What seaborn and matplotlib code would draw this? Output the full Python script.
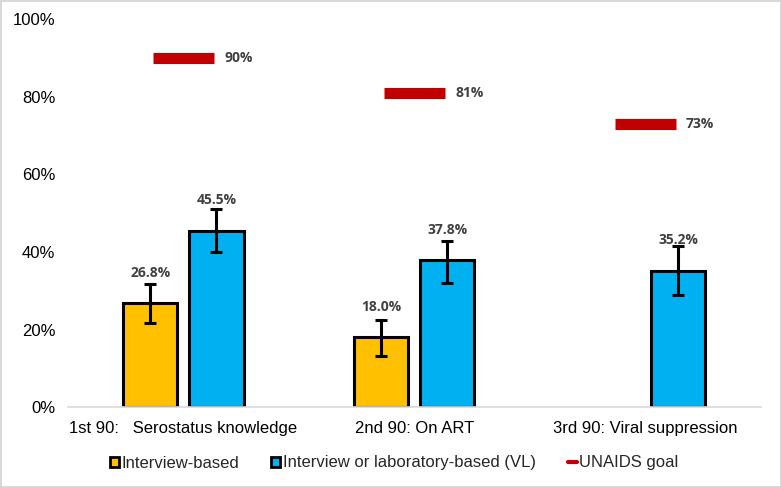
import numpy as np
import pandas as pd
import matplotlib
matplotlib.use("Agg")
import matplotlib.pyplot as plt
from matplotlib.lines import Line2D
from matplotlib.patches import Patch
import seaborn as sns

# ====================================
# DATA
# ====================================

categories = ["1st 90:   Serostatus knowledge", "2nd 90: On ART", "3rd 90: Viral suppression"]
series = ["Interview-based", "Interview or laboratory-based (VL)"]

interview = [26.8, 18.0]
interview_low = [21.6, 13.3]
interview_high = [31.8, 22.4]

lab = [45.5, 37.8, 35.2]
lab_low = [40.0, 32.0, 29.0]
lab_high = [51.0, 42.8, 41.5]

goals = [90, 81, 73]
goal_label = "UNAIDS goal"

colors = {series[0]: "#FFC000", series[1]: "#00B0F0"}
red = "#C00000"
label_grey = "#404040"

df = pd.DataFrame({
    "category": categories[:2] + categories,
    "series": [series[0]] * 2 + [series[1]] * 3,
    "value": interview + lab,
    "low": interview_low + lab_low,
    "high": interview_high + lab_high,
})

# ====================================
# PLOT
# ====================================

sns.set_theme(style="white")
plt.rcParams["font.family"] = ["Liberation Sans", "DejaVu Sans"]

fig = plt.figure(figsize=(7.81, 4.87), dpi=100)
fig.patch.set_edgecolor("#d9d9d9")
fig.patch.set_linewidth(2)
ax = fig.add_axes([0.087, 0.164, 0.887, 0.797])

sns.barplot(
    data=df, x="category", y="value", hue="series",
    order=categories, hue_order=series, palette=colors, saturation=1,
    width=0.572, gap=0.18, edgecolor="black", linewidth=2.2,
    errorbar=None, legend=False, ax=ax,
)

# error bars + value labels
for container, name in zip(ax.containers, series):
    sub = df[df["series"] == name].reset_index(drop=True)
    for patch, (_, row) in zip(container.patches, sub.iterrows()):
        x = patch.get_x() + patch.get_width() / 2
        v = row["value"]
        ax.errorbar(
            x, v, yerr=[[v - row["low"]], [row["high"] - v]],
            fmt="none", ecolor="black", elinewidth=2.2,
            capsize=4, capthick=2.2, zorder=4,
        )
        ax.annotate(
            f"{v:.1f}%", (x, v), xytext=(0, 22), textcoords="offset points",
            ha="center", va="center", fontsize=10, fontweight="bold",
            color=label_grey, family=["Open Sans", "DejaVu Sans"],
        )

# UNAIDS goal markers
xs = np.arange(len(categories))
half = 0.132
ax.hlines(goals, xs - half, xs + half, color=red, linewidth=8, zorder=3)
for x, g in zip(xs, goals):
    ax.text(
        x + half + 0.045, g, f"{g}%", ha="left", va="center",
        fontsize=10, fontweight="bold", color=label_grey,
        family=["Open Sans", "DejaVu Sans"],
    )

# axes styling
ax.set_xlim(-0.5, len(categories) - 0.5)
ax.set_ylim(0, 100)
ax.set_yticks(np.arange(0, 101, 20))
ax.set_yticklabels([f"{t}%" for t in range(0, 101, 20)])
ax.set_xlabel("")
ax.set_ylabel("")
ax.tick_params(axis="both", length=0, labelsize=12, colors="black")
ax.tick_params(axis="y", pad=9)
ax.tick_params(axis="x", pad=10)
for side in ["top", "right", "left"]:
    ax.spines[side].set_visible(False)
ax.spines["bottom"].set_color("#d9d9d9")
ax.spines["bottom"].set_linewidth(1.2)

# legend
handles = [
    Patch(facecolor=colors[series[0]], edgecolor="black", linewidth=2),
    Patch(facecolor=colors[series[1]], edgecolor="black", linewidth=2),
    Line2D([0], [0], color=red, linewidth=3),
]
fig.legend(
    handles, series + [goal_label], loc="center", bbox_to_anchor=(0.505, 1 - 463 / 487),
    ncol=3, frameon=False, fontsize=12, handlelength=0.55, handleheight=0.55,
    handletextpad=0.15, columnspacing=1.9,
)

fig.savefig("out.png", dpi=100, edgecolor=fig.get_edgecolor())
